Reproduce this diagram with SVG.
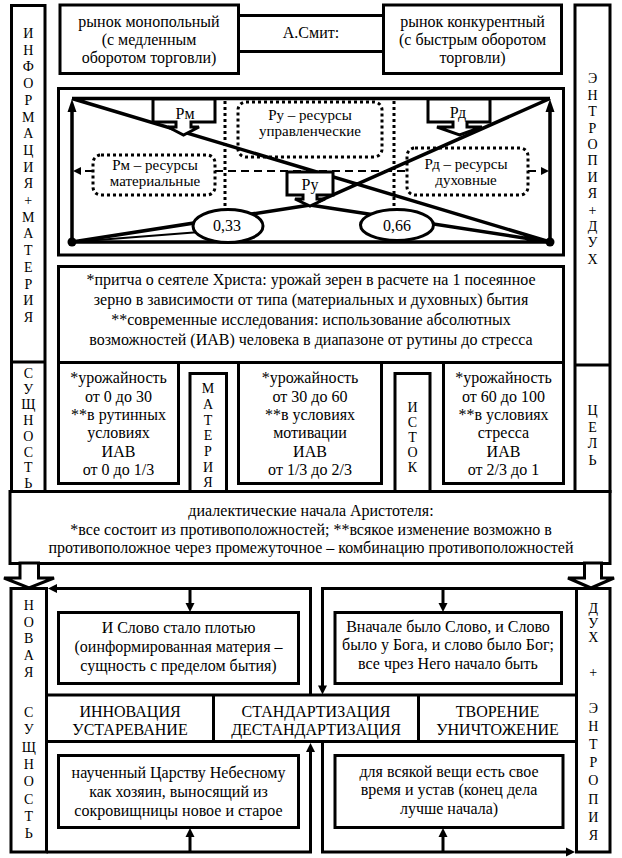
<svg xmlns="http://www.w3.org/2000/svg" width="622" height="858" viewBox="0 0 622 858" font-family="'Liberation Serif','DejaVu Serif',serif">
<defs>
<style>
text{font-family:'Liberation Serif','DejaVu Serif',serif;font-size:16px;fill:#000;text-anchor:middle}
.v{font-size:14px}
.s{font-size:15px}
.box{fill:#fff;stroke:#000;stroke-width:3}
.ln{fill:none;stroke:#000;stroke-width:3}
.thin{fill:none;stroke:#000;stroke-width:2}
.thick{fill:none;stroke:#000;stroke-width:3.5}
.dot{fill:#fff;stroke:#000;stroke-width:3;stroke-dasharray:3 3}
.dotl{fill:none;stroke:#000;stroke-width:3;stroke-dasharray:3 3}
.dash{fill:none;stroke:#000;stroke-width:2;stroke-dasharray:8 5}
.ah{fill:#000}
</style>
</defs>
<rect width="622" height="858" fill="#fff"/>

<g id="market-mono"><rect class="box" x="60" y="5" width="178.5" height="68.5"/><text x="149" y="27">рынок монопольный</text><text x="149" y="45">(с медленным</text><text x="149" y="63">оборотом торговли)</text></g>
<g id="smith"><path class="ln" d="M238.5,15.5H383.5M238.5,51.5H383.5"/><text x="311" y="38">А.Смит:</text></g>
<g id="market-konk"><rect class="box" x="383.5" y="5" width="178" height="68.5"/><text x="472.5" y="27">рынок конкурентный</text><text x="472.5" y="45">(с быстрым оборотом</text><text x="472.5" y="63">торговли)</text></g>

<g id="col-left"><rect class="box" x="11.5" y="5.5" width="33.5" height="486"/><path class="ln" d="M11.5,362H45"/>
<text class="v" x="28.3" y="38">И</text><text class="v" x="28.3" y="54.7">Н</text><text class="v" x="28.3" y="71.4">Ф</text><text class="v" x="28.3" y="88.1">О</text><text class="v" x="28.3" y="104.8">Р</text><text class="v" x="28.3" y="121.5">М</text><text class="v" x="28.3" y="138.2">А</text><text class="v" x="28.3" y="154.9">Ц</text><text class="v" x="28.3" y="171.6">И</text><text class="v" x="28.3" y="188.3">Я</text><text class="v" x="28.3" y="205">+</text><text class="v" x="28.3" y="221.7">М</text><text class="v" x="28.3" y="238.4">А</text><text class="v" x="28.3" y="255.1">Т</text><text class="v" x="28.3" y="271.8">Е</text><text class="v" x="28.3" y="288.5">Р</text><text class="v" x="28.3" y="305.2">И</text><text class="v" x="28.3" y="321.9">Я</text>
<text class="v" x="28.3" y="378">С</text><text class="v" x="28.3" y="393.7">У</text><text class="v" x="28.3" y="409.4">Щ</text><text class="v" x="28.3" y="425.1">Н</text><text class="v" x="28.3" y="440.8">О</text><text class="v" x="28.3" y="456.5">С</text><text class="v" x="28.3" y="472.2">Т</text><text class="v" x="28.3" y="487.9">Ь</text></g>

<g id="col-right"><rect class="box" x="575" y="5" width="35" height="486.5"/><path class="ln" d="M575,365H610"/>
<text class="v" x="592.5" y="83.3">Э</text><text class="v" x="592.5" y="99.7">Н</text><text class="v" x="592.5" y="116.1">Т</text><text class="v" x="592.5" y="132.5">Р</text><text class="v" x="592.5" y="148.9">О</text><text class="v" x="592.5" y="165.3">П</text><text class="v" x="592.5" y="181.7">И</text><text class="v" x="592.5" y="198.1">Я</text><text class="v" x="592.5" y="214.5">+</text><text class="v" x="592.5" y="230.9">Д</text><text class="v" x="592.5" y="247.3">У</text><text class="v" x="592.5" y="263.7">Х</text>
<text class="v" x="592.5" y="415">Ц</text><text class="v" x="592.5" y="431.7">Е</text><text class="v" x="592.5" y="448.4">Л</text><text class="v" x="592.5" y="465.1">Ь</text></g>

<g id="graph">
<rect class="box" x="58.5" y="88.5" width="505" height="166.5"/>
<path class="dotl" d="M225,101V210M394,101V210"/>
<path class="dash" d="M215,171H407M93,171H80M528,171H542"/>
<polygon class="ah" points="73,171 81,167 81,175"/>
<polygon class="ah" points="549,171 541,167 541,175"/>
<rect class="dot" x="238" y="102" width="144" height="55" rx="8"/>
<rect class="dot" x="93" y="155" width="122" height="40" rx="8"/>
<rect class="dot" x="407" y="148" width="121" height="47" rx="8"/>
<path class="thin" d="M72,242L200,232"/>
<path class="thick" d="M72,98.5H550M72,242V110M550,242V110M72,242H550M72,98.5L550,242M550,98.5L310,205L72,242M310,205L550,242"/>
<polygon class="ah" points="72,99 67.5,112 76.5,112"/>
<polygon class="ah" points="550,99 545.5,112 554.5,112"/>
<circle cx="72" cy="242" r="4.5"/><circle cx="550" cy="242" r="4.5"/>
<text class="s" x="310" y="120">Ру – ресурсы</text><text class="s" x="310" y="136">управленческие</text>
<text class="s" x="155" y="170">Рм – ресурсы</text><text class="s" x="155" y="186">материальные</text>
<text class="s" x="466" y="169">Рд – ресурсы</text><text class="s" x="466" y="185">духовные</text>
<path class="box" d="M153,99H215V122H191V127H199L183.5,135L168,127H176V122H153Z"/><text x="185" y="119">Рм</text>
<path class="box" d="M428,99H490V122H467V127H482L459.5,135L437,127H453V122H428Z"/><text x="458" y="118">Рд</text>
<path class="box" d="M287,172H333V195H317V199H325L310,206L295,199H303V195H287Z"/><text x="310" y="190">Ру</text>
<ellipse class="box" cx="228" cy="226" rx="35" ry="16.5"/><text x="227" y="231">0,33</text>
<ellipse class="box" cx="397" cy="225" rx="36.5" ry="15.5"/><text x="397" y="231">0,66</text>
</g>

<g id="parable"><rect class="box" x="58.5" y="266.5" width="505" height="96"/>
<text x="311" y="285">*притча о сеятеле Христа: урожай зерен в расчете на 1 посеянное</text>
<text x="311" y="305">зерно в зависимости от типа (материальных и духовных) бытия</text>
<text x="311" y="325">**современные исследования: использование абсолютных</text>
<text x="311" y="345">возможностей (ИАВ) человека в диапазоне от рутины до стресса</text></g>

<g id="yield-low"><rect class="box" x="58.5" y="362.5" width="120" height="121"/>
<text x="118.5" y="383">*урожайность</text><text x="118.5" y="402">от 0 до 30</text><text x="118.5" y="420">**в рутинных</text><text x="118.5" y="438">условиях</text><text x="118.5" y="457">ИАВ</text><text x="118.5" y="475">от 0 до 1/3</text></g>
<g id="materia"><rect class="box" x="190" y="373.5" width="36.5" height="118"/>
<text class="v" x="208" y="393">М</text><text class="v" x="208" y="409">А</text><text class="v" x="208" y="424.5">Т</text><text class="v" x="208" y="440">Е</text><text class="v" x="208" y="456">Р</text><text class="v" x="208" y="471.5">И</text><text class="v" x="208" y="487">Я</text></g>
<g id="yield-mid"><rect class="box" x="238.5" y="362.5" width="143" height="121"/>
<text x="310" y="383">*урожайность</text><text x="310" y="402">от 30 до 60</text><text x="310" y="420">**в условиях</text><text x="310" y="438">мотивации</text><text x="310" y="457">ИАВ</text><text x="310" y="475">от 1/3 до 2/3</text></g>
<g id="istok"><rect class="box" x="395" y="373.5" width="35" height="118"/>
<text class="v" x="412.5" y="412">И</text><text class="v" x="412.5" y="427">С</text><text class="v" x="412.5" y="442">Т</text><text class="v" x="412.5" y="457">О</text><text class="v" x="412.5" y="472">К</text></g>
<g id="yield-high"><rect class="box" x="443.5" y="362.5" width="120" height="121"/>
<text x="503.5" y="383">*урожайность</text><text x="503.5" y="402">от 60 до 100</text><text x="503.5" y="420">**в условиях</text><text x="503.5" y="438">стресса</text><text x="503.5" y="457">ИАВ</text><text x="503.5" y="475">от 2/3 до 1</text></g>

<g id="aristotle"><rect class="box" x="10" y="491.5" width="600" height="72"/>
<text x="311" y="516">диалектические начала Аристотеля:</text>
<text x="311" y="535">*все состоит из противоположностей; **всякое изменение возможно в</text>
<text x="311" y="553">противоположное через промежуточное – комбинацию противоположностей</text></g>

<g id="arrow-left-block"><polygon class="box" points="20,563 38.5,563 38.5,578 54,578 29,588 4,578 20,578"/></g>
<g id="arrow-right-block"><polygon class="box" points="584.5,563 601.5,563 601.5,578 614,578 591,588 568,578 584.5,578"/></g>

<g id="col-new"><rect class="box" x="11" y="588.5" width="35.5" height="263.5"/>
<text class="v" x="28.7" y="610">Н</text><text class="v" x="28.7" y="626.7">О</text><text class="v" x="28.7" y="643.4">В</text><text class="v" x="28.7" y="660.1">А</text><text class="v" x="28.7" y="676.8">Я</text>
<text class="v" x="28.7" y="717">С</text><text class="v" x="28.7" y="734.3">У</text><text class="v" x="28.7" y="751.6">Щ</text><text class="v" x="28.7" y="768.9">Н</text><text class="v" x="28.7" y="786.2">О</text><text class="v" x="28.7" y="803.5">С</text><text class="v" x="28.7" y="820.8">Т</text><text class="v" x="28.7" y="838.1">Ь</text></g>
<g id="col-spirit"><rect class="box" x="576.5" y="588.5" width="33.5" height="263.5"/>
<text class="v" x="593.3" y="613">Д</text><text class="v" x="593.3" y="627.5">У</text><text class="v" x="593.3" y="642">Х</text><text class="v" x="593.3" y="677">+</text>
<text class="v" x="593.3" y="713">Э</text><text class="v" x="593.3" y="731.1">Н</text><text class="v" x="593.3" y="749.2">Т</text><text class="v" x="593.3" y="767.3">Р</text><text class="v" x="593.3" y="785.4">О</text><text class="v" x="593.3" y="803.5">П</text><text class="v" x="593.3" y="821.6">И</text><text class="v" x="593.3" y="839.7">Я</text></g>

<g id="connectors">
<path class="ln" d="M310.5,695V588.5H56"/><polygon class="ah" points="48,588.5 57,584 57,593"/>
<path class="ln" d="M190,588.5V604"/><polygon class="ah" points="190,612 185.5,603 194.5,603"/>
<path class="ln" d="M46.5,852H310.5V751"/><polygon class="ah" points="310.5,743 306,752 315,752"/>
<path class="ln" d="M190,852V836"/><polygon class="ah" points="190,828 185.5,837 194.5,837"/>
<path class="ln" d="M576.5,588.5H322.5V686"/><polygon class="ah" points="322.5,694.5 318,685.5 327,685.5"/>
<path class="ln" d="M443,588.5V604"/><polygon class="ah" points="443,612 438.5,603 447.5,603"/>
<path class="ln" d="M322.5,742V852H566"/><polygon class="ah" points="575,852 566,847.5 566,856.5"/>
<path class="ln" d="M443,852V836"/><polygon class="ah" points="443,828 438.5,837 447.5,837"/>
</g>

<g id="word-flesh"><rect class="box" x="58.5" y="612.5" width="240" height="71"/>
<text x="178.5" y="633">И Слово стало плотью</text><text x="178.5" y="652">(оинформированная материя –</text><text x="178.5" y="671">сущность с пределом бытия)</text></g>
<g id="word-begin"><rect class="box" x="335" y="612.5" width="226.5" height="71"/>
<text x="448" y="632">Вначале было Слово, и Слово</text><text x="448" y="650">было у Бога, и слово было Бог;</text><text x="448" y="669">все чрез Него начало быть</text></g>

<g id="row"><rect class="box" x="46.5" y="695" width="530" height="46.5"/><path class="ln" d="M213.5,695V741.5M418.5,695V741.5"/>
<text x="130" y="717">ИННОВАЦИЯ</text><text x="130" y="735">УСТАРЕВАНИЕ</text>
<text x="316" y="717">СТАНДАРТИЗАЦИЯ</text><text x="316" y="735">ДЕСТАНДАРТИЗАЦИЯ</text>
<text x="497.5" y="717">ТВОРЕНИЕ</text><text x="497.5" y="735">УНИЧТОЖЕНИЕ</text></g>

<g id="taught"><rect class="box" x="58.5" y="755.5" width="240" height="72"/>
<text x="178.5" y="778">наученный Царству Небесному</text><text x="178.5" y="797">как хозяин, выносящий из</text><text x="178.5" y="816">сокровищницы новое и старое</text></g>
<g id="time"><rect class="box" x="335" y="755.5" width="228" height="72"/>
<text x="449" y="777">для всякой вещи есть свое</text><text x="449" y="795">время и устав (конец дела</text><text x="449" y="814">лучше начала)</text></g>
</svg>
